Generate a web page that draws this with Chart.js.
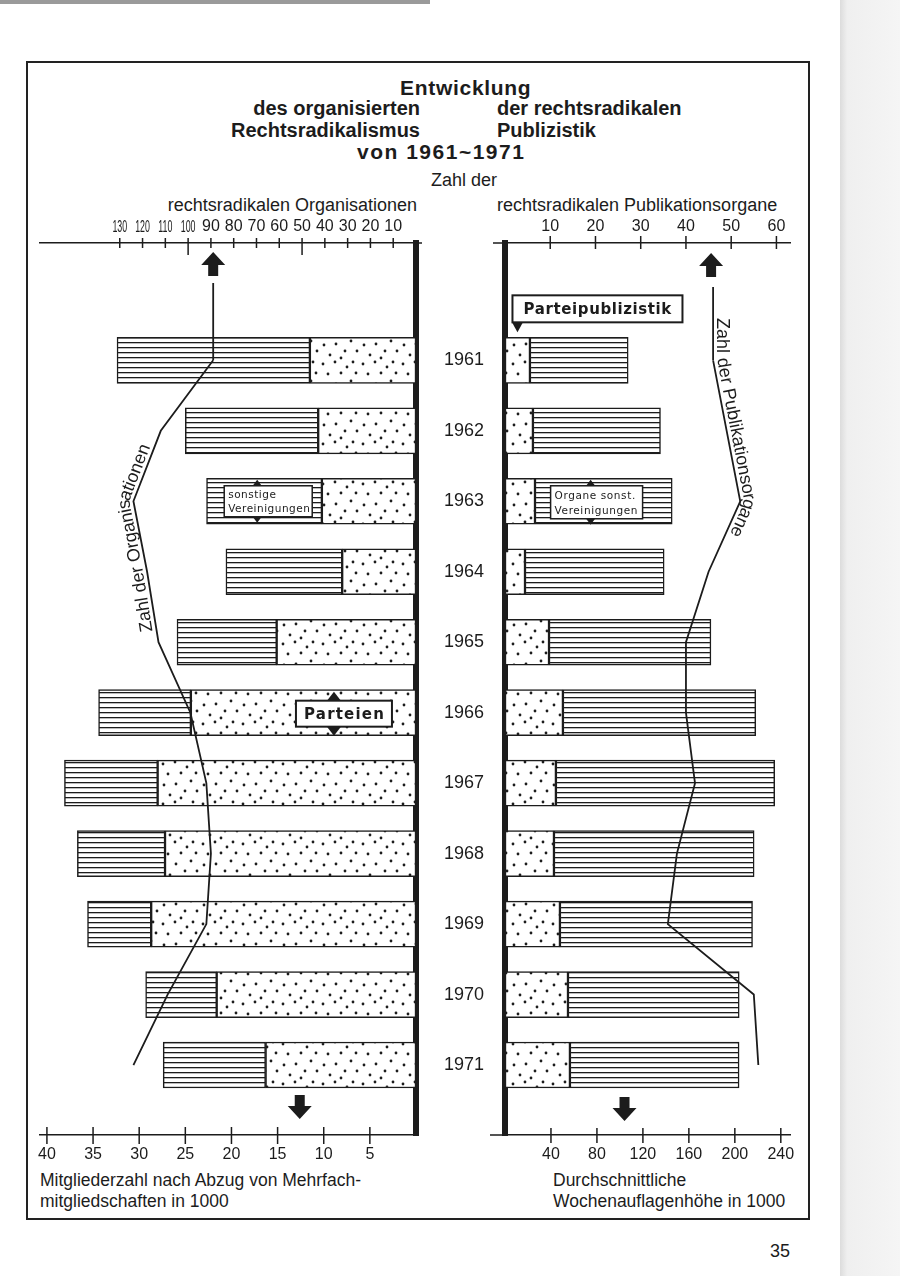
<!DOCTYPE html>
<html lang="de">
<head>
<meta charset="UTF-8">
<title>Entwicklung des organisierten Rechtsradikalismus 1961-1971</title>
<style>
  body { margin: 0; width: 900px; height: 1276px; background: #fff; position: relative; overflow: hidden;
         font-family: 'Liberation Sans', Arial, sans-serif; color: #1c1c1c; }
  .t { position: absolute; white-space: nowrap; }
  .b { font-weight: bold; font-size: 20px; line-height: 22px; }
  .n { font-size: 18px; line-height: 20px; }
  .s { font-size: 17.5px; line-height: 21px; }
  #frame { position: absolute; left: 26px; top: 61px; width: 784px; height: 1159px; border: 2px solid #222; box-sizing: border-box; }
  #edge { position: absolute; left: 840px; top: 0; width: 60px; height: 1276px; background: linear-gradient(to right, #dcdcdc, #efefef 12%, #f5f5f5); }
  #topedge { position: absolute; left: 0; top: 0; width: 430px; height: 4px; background: #9a9a9a; }
  canvas { position: absolute; }
</style>
</head>
<body>
<div id="topedge"></div>
<div id="edge"></div>
<div id="frame"></div>

<div class="t b" style="left:400px; top:77px; font-size:21px; letter-spacing:0.7px;">Entwicklung</div>
<div class="t b" style="right:480px; top:97px;">des organisierten</div>
<div class="t b" style="left:497px; top:97px;">der rechtsradikalen</div>
<div class="t b" style="right:480px; top:119px;">Rechtsradikalismus</div>
<div class="t b" style="left:497px; top:119px;">Publizistik</div>
<div class="t b" style="left:357px; top:141px; font-size:21px; letter-spacing:1.5px;">von 1961~1971</div>
<div class="t n" style="left:364px; width:200px; text-align:center; top:170px;">Zahl der</div>
<div class="t n" style="right:483px; top:195px;">rechtsradikalen Organisationen</div>
<div class="t n" style="left:497px; top:195px;">rechtsradikalen Publikationsorgane</div>

<div class="t s" style="left:40px; top:1170px;">Mitgliederzahl nach Abzug von Mehrfach-<br>mitgliedschaften in 1000</div>
<div class="t s" style="left:553px; top:1170px;">Durchschnittliche<br>Wochenauflagenhöhe in 1000</div>
<div class="t n" style="left:770px; top:1241px;">35</div>

<canvas id="left" width="430" height="980" style="left:0; top:200px;"></canvas>
<canvas id="right" width="400" height="980" style="left:430px; top:200px;"></canvas>

<script src="https://cdn.jsdelivr.net/npm/chart.js"></script>
<script>
    // Jahre
    const years = [1961, 1962, 1963, 1964, 1965, 1966, 1967, 1968, 1969, 1970, 1971];

    // Mitglieder in 1000 (links)
    const orgParteien = [11.5, 10.6, 10.2, 8.0, 15.1, 24.4, 28.0, 27.2, 28.7, 21.6, 16.3];
    const orgSonstige = [20.9, 14.4, 12.5, 12.6, 10.8, 10.0, 10.1, 9.5, 6.9, 7.7, 11.1];
    // Zahl der Organisationen
    const orgAnzahl = [89, 112, 124, 118, 113, 99, 92, 90, 92, 109, 124];

    // Wochenauflage in 1000 (rechts)
    const pubPartei = [21.7, 24.3, 26.1, 17.4, 38.3, 50.4, 44.3, 42.6, 47.8, 54.8, 56.5];
    const pubSonstige = [85.5, 111, 119.4, 121.1, 140.9, 167.8, 190.4, 174.2, 167.6, 149, 147.2];
    // Zahl der Publikationsorgane
    const pubAnzahl = [46, 49, 52, 45, 40, 40, 42, 38, 36, 55, 56];

    // Achsenbeschriftungen
    const memberTicks = [5, 10, 15, 20, 25, 30, 35, 40];
    const orgTicks = [10, 20, 30, 40, 50, 60, 70, 80, 90, 100, 110, 120, 130];
    const pubTicks = [10, 20, 30, 40, 50, 60];
    const auflageTicks = [40, 80, 120, 160, 200, 240];

    const ink = '#1c1c1c';
    const sans = "'Liberation Sans', Arial, sans-serif";
    const stencil = "'DejaVu Sans', sans-serif";

    // Muster: Punkte und Schraffur
    function f_dots() {
        const c = document.createElement('canvas');
        c.width = 40; c.height = 40;
        const g = c.getContext('2d');
        g.fillStyle = '#fff';
        g.fillRect(0, 0, 40, 40);
        g.fillStyle = ink;
        const pos = [[3, 4], [15, 2], [27, 7], [36, 13], [8, 14], [21, 13], [31, 21], [4, 25], [16, 24], [25, 31], [37, 31], [10, 35], [21, 38], [33, 2]];
        pos.forEach(p => { g.beginPath(); g.arc(p[0], p[1], 1.4, 0, Math.PI * 2); g.fill(); });
        return g.createPattern(c, 'repeat');
    }
    function f_hatch() {
        const c = document.createElement('canvas');
        c.width = 8; c.height = 5;
        const g = c.getContext('2d');
        g.fillStyle = '#fff';
        g.fillRect(0, 0, 8, 5);
        g.fillStyle = ink;
        g.fillRect(0, 2, 8, 1.3);
        return g.createPattern(c, 'repeat');
    }
    const dots = f_dots();
    const hatch = f_hatch();

    // Hilfsfunktionen zum Zeichnen
    function f_crossTicks(chart, id, up, down, longVals, longDown) {
        const s = chart.scales[id];
        const ctx = chart.ctx;
        const y0 = s.position === 'top' ? chart.chartArea.top : chart.chartArea.bottom;
        ctx.save();
        ctx.strokeStyle = ink;
        ctx.lineWidth = 1.5;
        s.ticks.forEach(t => {
            const px = s.getPixelForValue(t.value);
            const d = longVals.includes(t.value) ? longDown : down;
            ctx.beginPath();
            ctx.moveTo(px, y0 - up);
            ctx.lineTo(px, y0 + d);
            ctx.stroke();
        });
        ctx.restore();
    }

    function f_arrow(ctx, cx, top, dir) {
        const hw = 12, sw = 5, sh = 11, hh = 13;
        ctx.save();
        ctx.fillStyle = ink;
        ctx.beginPath();
        if (dir < 0) {
            ctx.moveTo(cx, top);
            ctx.lineTo(cx + hw, top + hh);
            ctx.lineTo(cx + sw, top + hh);
            ctx.lineTo(cx + sw, top + hh + sh);
            ctx.lineTo(cx - sw, top + hh + sh);
            ctx.lineTo(cx - sw, top + hh);
            ctx.lineTo(cx - hw, top + hh);
        } else {
            ctx.moveTo(cx - sw, top);
            ctx.lineTo(cx + sw, top);
            ctx.lineTo(cx + sw, top + sh);
            ctx.lineTo(cx + hw, top + sh);
            ctx.lineTo(cx, top + sh + hh);
            ctx.lineTo(cx - hw, top + sh);
            ctx.lineTo(cx - sw, top + sh);
        }
        ctx.closePath();
        ctx.fill();
        ctx.restore();
    }

    function f_tri(ctx, x, y, w, h) {
        // h < 0 zeigt nach oben
        ctx.beginPath();
        ctx.moveTo(x - w / 2, y);
        ctx.lineTo(x + w / 2, y);
        ctx.lineTo(x, y + h);
        ctx.closePath();
        ctx.fill();
    }

    function f_box(ctx, o) {
        const x0 = o.cx - o.w / 2, y0 = o.cy - o.h / 2;
        ctx.save();
        ctx.fillStyle = '#fff';
        ctx.fillRect(x0, y0, o.w, o.h);
        ctx.strokeStyle = ink;
        ctx.lineWidth = o.lw;
        ctx.strokeRect(x0, y0, o.w, o.h);
        ctx.fillStyle = ink;
        ctx.font = o.font;
        ctx.letterSpacing = o.spacing + 'px';
        ctx.textBaseline = 'middle';
        ctx.textAlign = o.align;
        const tx = o.align === 'left' ? x0 + o.pad : o.cx + o.spacing / 2;
        o.lines.forEach((l, i) => {
            ctx.fillText(l, tx, o.cy + (i - (o.lines.length - 1) / 2) * o.lh + 1);
        });
        if (o.tri) {
            const tx2 = o.cx + o.triDx;
            f_tri(ctx, tx2, y0, o.tri[0], -o.tri[1]);
            f_tri(ctx, tx2, y0 + o.h, o.tri[0], o.tri[1]);
        }
        ctx.restore();
    }

    // Schrift entlang der Linie: Mittellinie der Buchstaben auf einer parallel versetzten Linie
    function f_textPath(ctx, pts, text, start, dist, font) {
        ctx.save();
        ctx.font = font;
        ctx.fillStyle = ink;
        ctx.textBaseline = 'middle';
        ctx.textAlign = 'left';
        const n = [];
        for (let i = 0; i < pts.length - 1; i++) {
            const dx = pts[i + 1].x - pts[i].x, dy = pts[i + 1].y - pts[i].y;
            const len = Math.hypot(dx, dy);
            n.push({ x: dy / len, y: -dx / len });
        }
        const off = pts.map((p, i) => {
            if (i === 0) return { x: p.x + n[0].x * dist, y: p.y + n[0].y * dist };
            if (i === pts.length - 1) return { x: p.x + n[i - 1].x * dist, y: p.y + n[i - 1].y * dist };
            let mx = n[i - 1].x + n[i].x, my = n[i - 1].y + n[i].y;
            const ml = Math.hypot(mx, my);
            mx /= ml; my /= ml;
            const k = dist / (mx * n[i].x + my * n[i].y);
            return { x: p.x + mx * k, y: p.y + my * k };
        });
        const segs = [];
        let total = 0;
        for (let i = 0; i < off.length - 1; i++) {
            const dx = off[i + 1].x - off[i].x, dy = off[i + 1].y - off[i].y;
            const len = Math.hypot(dx, dy);
            segs.push({ x: off[i].x, y: off[i].y, dx: dx / len, dy: dy / len, len: len, from: total });
            total += len;
        }
        function at(d) {
            let s = segs[segs.length - 1];
            for (const sg of segs) {
                if (d <= sg.from + sg.len) { s = sg; break; }
            }
            const t = d - s.from;
            return { x: s.x + s.dx * t, y: s.y + s.dy * t };
        }
        let d = start;
        for (const ch of text) {
            const w = ctx.measureText(ch).width;
            const p1 = at(d), p2 = at(d + w);
            ctx.save();
            ctx.translate(p1.x, p1.y);
            ctx.rotate(Math.atan2(p2.y - p1.y, p2.x - p1.x));
            ctx.fillText(ch, 0, 0);
            ctx.restore();
            d += w;
        }
        ctx.restore();
    }

    function f_narrowLabels(chart, id, vals, gap) {
        const s = chart.scales[id];
        const ctx = chart.ctx;
        ctx.save();
        ctx.fillStyle = ink;
        ctx.font = '17px ' + sans;
        ctx.textAlign = 'center';
        ctx.textBaseline = 'alphabetic';
        vals.forEach(v => {
            ctx.save();
            ctx.translate(s.getPixelForValue(v), chart.chartArea.top - gap);
            ctx.scale(0.52, 1);
            ctx.fillText(String(v), 0, 0);
            ctx.restore();
        });
        ctx.restore();
    }

    const leftDeco = {
        id: 'leftDeco',
        afterDraw(chart) {
            const ctx = chart.ctx;
            const a = chart.chartArea;
            f_crossTicks(chart, 'x', 8, 9, [], 9);
            f_crossTicks(chart, 'xTop', 5, 5, [50, 100], 12);
            f_narrowLabels(chart, 'xTop', orgTicks.filter(v => v >= 100), 11);

            // Achse oben etwas ueber die senkrechte Linie hinaus
            ctx.save();
            ctx.strokeStyle = ink;
            ctx.lineWidth = 1.5;
            ctx.beginPath();
            ctx.moveTo(a.right, a.top);
            ctx.lineTo(a.right + 6, a.top);
            ctx.stroke();

            // Linie zum Pfeil nach oben
            const pts = chart.getDatasetMeta(2).data;
            ctx.lineWidth = 1.8;
            ctx.beginPath();
            ctx.moveTo(pts[0].x, pts[0].y);
            ctx.lineTo(pts[0].x, a.top + 40);
            ctx.stroke();
            ctx.restore();
            f_arrow(ctx, pts[0].x, a.top + 9, -1);
            f_arrow(ctx, chart.scales.x.getPixelForValue(12.6), a.bottom - 40, 1);

            f_textPath(ctx, [pts[4], pts[3], pts[2], pts[1]], 'Zahl der Organisationen', 12, 9, '18px ' + sans);

            const b1 = chart.getDatasetMeta(1).data[2];
            f_box(ctx, {
                cx: (b1.x + b1.base) / 2 + 4, cy: b1.y, w: 88, h: 31, lw: 1.5,
                lines: ['sonstige', 'Vereinigungen'], lh: 14, font: '10.5px ' + stencil, spacing: 0.5,
                align: 'left', pad: 4, tri: [9, 6], triDx: -11
            });
            const b2 = chart.getDatasetMeta(0).data[5];
            f_box(ctx, {
                cx: b2.base + (b2.x - b2.base) * 0.32, cy: b2.y + 1, w: 96, h: 26, lw: 2,
                lines: ['Parteien'], lh: 0, font: 'bold 15px ' + stencil, spacing: 1.2,
                align: 'center', pad: 0, tri: [14, 9], triDx: -10
            });
        }
    };

    const rightDeco = {
        id: 'rightDeco',
        afterDraw(chart) {
            const ctx = chart.ctx;
            const a = chart.chartArea;
            f_crossTicks(chart, 'x', 7, 8, [], 8);
            f_crossTicks(chart, 'xTop', 7, 6, [], 6);

            ctx.save();
            ctx.strokeStyle = ink;
            ctx.lineWidth = 1.5;
            ctx.beginPath();
            ctx.moveTo(a.left - 12, a.top);
            ctx.lineTo(a.left, a.top);
            ctx.moveTo(a.left - 15, a.bottom);
            ctx.lineTo(a.left, a.bottom);
            ctx.stroke();

            const pts = chart.getDatasetMeta(2).data;
            const topPt = { x: pts[0].x, y: a.top + 44 };
            ctx.lineWidth = 1.8;
            ctx.beginPath();
            ctx.moveTo(pts[0].x, pts[0].y);
            ctx.lineTo(topPt.x, topPt.y);
            ctx.stroke();
            ctx.restore();
            f_arrow(ctx, pts[0].x - 2, a.top + 10, -1);
            f_arrow(ctx, chart.scales.x.getPixelForValue(104), a.bottom - 38, 1);

            f_textPath(ctx, [topPt, pts[0], pts[1], pts[2], pts[3]], 'Zahl der Publikationsorgane', 31, 9, '18px ' + sans);

            const b1 = chart.getDatasetMeta(1).data[2];
            f_box(ctx, {
                cx: (b1.x + b1.base) / 2 - 7, cy: b1.y + 1, w: 92, h: 33, lw: 1.5,
                lines: ['Organe sonst.', 'Vereinigungen'], lh: 15, font: '10.5px ' + stencil, spacing: 0.6,
                align: 'left', pad: 4, tri: [9, 6], triDx: -6
            });

            // Parteipublizistik mit Zeiger
            const p = chart.getDatasetMeta(0).data[0];
            const px = (p.x + p.base) / 2;
            const top = p.y - 23 - 42;
            f_box(ctx, {
                cx: px - 5 + 85, cy: top + 13.5, w: 170, h: 27, lw: 2,
                lines: ['Parteipublizistik'], lh: 0, font: 'bold 15px ' + stencil, spacing: 0.6,
                align: 'center', pad: 0, tri: null
            });
            ctx.fillStyle = ink;
            f_tri(ctx, px, top + 27, 11, 10);
        }
    };

    function f_xScale(opts) {
        return {
            type: 'linear',
            position: opts.position,
            reverse: opts.reverse,
            min: 0,
            max: opts.max,
            stacked: opts.stacked,
            offset: false,
            grid: { display: false, drawTicks: false },
            border: { display: true, width: 1.5, color: ink },
            ticks: {
                color: ink,
                padding: opts.padding,
                font: { size: 16, family: sans },
                maxRotation: 0,
                autoSkip: false,
                callback: v => (opts.hide && opts.hide(v)) ? '' : String(v)
            },
            afterBuildTicks: s => { s.ticks = opts.ticks.map(v => ({ value: v })); },
            afterFit: s => { s.height = opts.height; }
        };
    }

    const yMin = 1959.335;
    const yMax = 1971.993;

    // links: Organisationen
    new Chart(document.querySelector('#left'), {
        type: 'bar',
        data: {
            datasets: [
                {
                    label: 'Parteien',
                    data: years.map((y, i) => ({ x: orgParteien[i], y: y })),
                    backgroundColor: dots, borderColor: ink, borderWidth: 1.5, borderSkipped: false,
                    barThickness: 46, xAxisID: 'x', yAxisID: 'y', stack: 'm', order: 2
                },
                {
                    label: 'sonstige Vereinigungen',
                    data: years.map((y, i) => ({ x: orgSonstige[i], y: y })),
                    backgroundColor: hatch, borderColor: ink, borderWidth: 1.5, borderSkipped: false,
                    barThickness: 46, xAxisID: 'x', yAxisID: 'y', stack: 'm', order: 2
                },
                {
                    type: 'line',
                    label: 'Zahl der Organisationen',
                    indexAxis: 'y',
                    data: years.map((y, i) => ({ x: orgAnzahl[i], y: y })),
                    xAxisID: 'xTop', yAxisID: 'y',
                    borderColor: ink, borderWidth: 1.8, pointRadius: 0, tension: 0, fill: false, order: 1
                }
            ]
        },
        options: {
            indexAxis: 'y',
            responsive: false,
            animation: false,
            layout: { padding: { left: 40, right: 0, top: 0, bottom: 0 } },
            plugins: { legend: { display: false }, tooltip: { enabled: false } },
            scales: {
                x: f_xScale({ position: 'bottom', reverse: true, max: 40.75, stacked: true, padding: 10, ticks: memberTicks, height: 45 }),
                xTop: f_xScale({ position: 'top', reverse: true, max: 165, stacked: false, padding: 7, ticks: orgTicks, height: 43, hide: v => v >= 100 }),
                y: {
                    type: 'linear', position: 'right', reverse: true, min: yMin, max: yMax, offset: false, z: 1,
                    grid: { display: false, drawTicks: false, offset: false },
                    border: { display: true, width: 6, color: ink },
                    ticks: { display: false },
                    afterFit: s => { s.width = 14; }
                }
            }
        },
        plugins: [leftDeco]
    });

    // rechts: Publizistik
    new Chart(document.querySelector('#right'), {
        type: 'bar',
        data: {
            datasets: [
                {
                    label: 'Parteipublizistik',
                    data: years.map((y, i) => ({ x: pubPartei[i], y: y })),
                    backgroundColor: dots, borderColor: ink, borderWidth: 1.5, borderSkipped: false,
                    barThickness: 46, xAxisID: 'x', yAxisID: 'y', stack: 'p', order: 2
                },
                {
                    label: 'Organe sonst. Vereinigungen',
                    data: years.map((y, i) => ({ x: pubSonstige[i], y: y })),
                    backgroundColor: hatch, borderColor: ink, borderWidth: 1.5, borderSkipped: false,
                    barThickness: 46, xAxisID: 'x', yAxisID: 'y', stack: 'p', order: 2
                },
                {
                    type: 'line',
                    label: 'Zahl der Publikationsorgane',
                    indexAxis: 'y',
                    data: years.map((y, i) => ({ x: pubAnzahl[i], y: y })),
                    xAxisID: 'xTop', yAxisID: 'y',
                    borderColor: ink, borderWidth: 1.8, pointRadius: 0, tension: 0, fill: false, order: 1
                }
            ]
        },
        options: {
            indexAxis: 'y',
            responsive: false,
            animation: false,
            layout: { padding: { left: 0, right: 40, top: 0, bottom: 0 } },
            plugins: { legend: { display: false }, tooltip: { enabled: false } },
            scales: {
                x: f_xScale({ position: 'bottom', reverse: false, max: 248, stacked: true, padding: 10, ticks: auflageTicks, height: 45 }),
                xTop: f_xScale({ position: 'top', reverse: false, max: 63, stacked: false, padding: 7, ticks: pubTicks, height: 43 }),
                y: {
                    type: 'linear', position: 'left', reverse: true, min: yMin, max: yMax, offset: false, z: 1,
                    grid: { display: false, drawTicks: false, offset: false },
                    border: { display: true, width: 6, color: ink },
                    ticks: {
                        color: ink, padding: 21, font: { size: 18, family: sans },
                        callback: v => String(v)
                    },
                    afterBuildTicks: s => { s.ticks = years.map(v => ({ value: v })); },
                    afterFit: s => { s.width = 75; }
                }
            }
        },
        plugins: [rightDeco]
    });
</script>
</body>
</html>
